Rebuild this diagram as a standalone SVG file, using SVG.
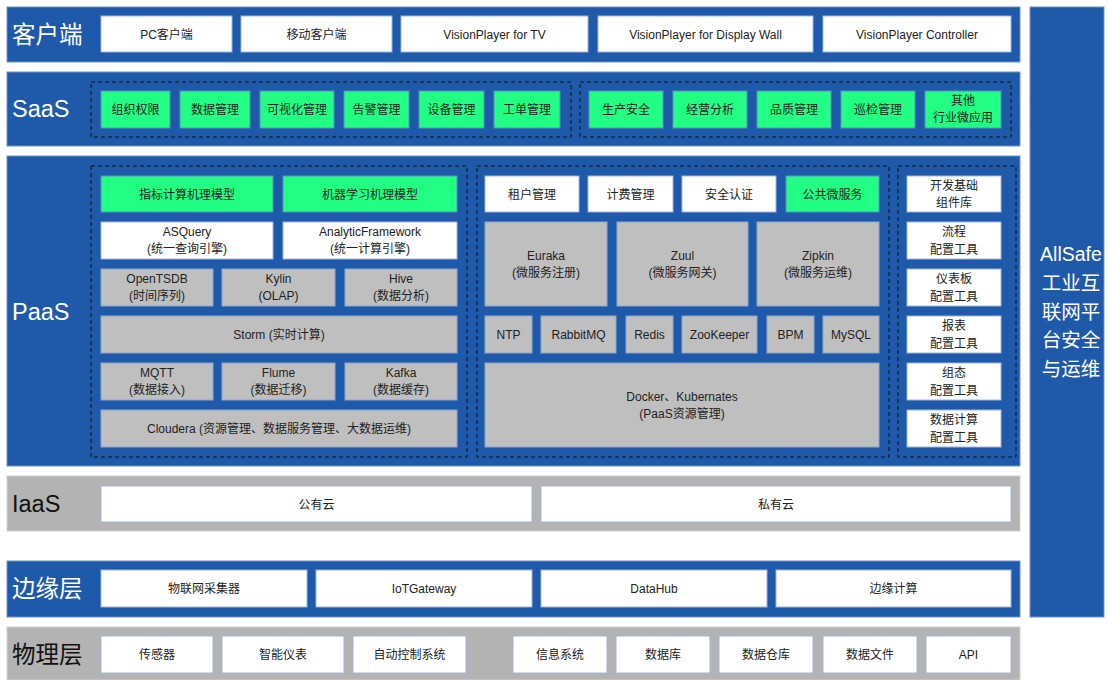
<svg xmlns="http://www.w3.org/2000/svg" width="1108" height="680" viewBox="0 0 1108 680">
<style>
text{font-family:"Liberation Sans","Noto Sans CJK SC",sans-serif;font-size:12px;fill:#222;text-anchor:middle;dominant-baseline:central}
.band{fill:#1f5aaa;stroke:#6f93c8;stroke-width:1}
.gband{fill:#b3b3b3;stroke:#cfcfcf;stroke-width:1}
.w{fill:#fff;stroke:#9fb6d9;stroke-width:1}
.g{fill:#22fd84;stroke:#5a8fc0;stroke-width:1}
.s{fill:#bfbfbf;stroke:#8ea6c8;stroke-width:1}
.dash{fill:none;stroke:#111;stroke-width:1;stroke-dasharray:4 3}
.lbl{font-size:23.5px;fill:#fff;text-anchor:start}
.lbld{font-size:23.5px;fill:#111;text-anchor:start}
.side{font-size:19.5px;fill:#fff}
</style>
<g id="bands">
<rect class="band" x="7" y="7" width="1013" height="55"/>
<rect class="band" x="7" y="72" width="1013" height="74"/>
<rect class="band" x="7" y="156" width="1013" height="310"/>
<rect class="gband" x="7" y="476" width="1013" height="55"/>
<rect class="band" x="7" y="561" width="1013" height="56"/>
<rect class="gband" x="7" y="627" width="1013" height="53"/>
<rect class="band" x="1030" y="7" width="74" height="610"/>
<text class="lbl" x="12" y="35">客户端</text>
<text class="lbl" x="12" y="109">SaaS</text>
<text class="lbl" x="12" y="312">PaaS</text>
<text class="lbld" x="12" y="504">IaaS</text>
<text class="lbl" x="12" y="589">边缘层</text>
<text class="lbld" x="12" y="655">物理层</text>
<text class="side" x="1071" y="254">AllSafe</text>
<text class="side" x="1071" y="283">工业互</text>
<text class="side" x="1071" y="312">联网平</text>
<text class="side" x="1071" y="340">台安全</text>
<text class="side" x="1071" y="369">与运维</text>
</g>
<g id="client">
<rect class="w" x="101" y="16" width="131" height="36"/><text x="166.5" y="35">PC客户端</text>
<rect class="w" x="241" y="16" width="151" height="36"/><text x="316.5" y="35">移动客户端</text>
<rect class="w" x="401" y="16" width="187" height="36"/><text x="494.5" y="35">VisionPlayer for TV</text>
<rect class="w" x="598" y="16" width="215" height="36"/><text x="705.5" y="35">VisionPlayer for Display Wall</text>
<rect class="w" x="823" y="16" width="188" height="36"/><text x="917" y="35">VisionPlayer Controller</text>
</g>
<g id="saas">
<rect class="dash" x="91" y="82" width="480" height="55"/>
<rect class="dash" x="580" y="82" width="431" height="55"/>
<rect class="g" x="101" y="91" width="69" height="37"/><text x="135.5" y="110">组织权限</text>
<rect class="g" x="180" y="91" width="70" height="37"/><text x="215" y="110">数据管理</text>
<rect class="g" x="260" y="91" width="74" height="37"/><text x="297" y="110">可视化管理</text>
<rect class="g" x="344" y="91" width="65" height="37"/><text x="376.5" y="110">告警管理</text>
<rect class="g" x="419" y="91" width="65" height="37"/><text x="451.5" y="110">设备管理</text>
<rect class="g" x="494" y="91" width="66" height="37"/><text x="527" y="110">工单管理</text>
<rect class="g" x="589" y="91" width="74" height="37"/><text x="626" y="110">生产安全</text>
<rect class="g" x="673" y="91" width="74" height="37"/><text x="710" y="110">经营分析</text>
<rect class="g" x="757" y="91" width="74" height="37"/><text x="794" y="110">品质管理</text>
<rect class="g" x="841" y="91" width="74" height="37"/><text x="878" y="110">巡检管理</text>
<rect class="g" x="925" y="91" width="76" height="37"/><text x="963" y="101">其他</text><text x="963" y="118">行业微应用</text>
</g>
<g id="paas-left">
<rect class="dash" x="91" y="166" width="376" height="291"/>
<rect class="g" x="101" y="176" width="172" height="36"/><text x="187" y="195">指标计算机理模型</text>
<rect class="g" x="283" y="176" width="174" height="36"/><text x="370" y="195">机器学习机理模型</text>
<rect class="w" x="101" y="222" width="172" height="37"/><text x="187" y="232">ASQuery</text><text x="187" y="249">(统一查询引擎)</text>
<rect class="w" x="283" y="222" width="174" height="37"/><text x="370" y="232">AnalyticFramework</text><text x="370" y="249">(统一计算引擎)</text>
<rect class="s" x="101" y="269" width="112" height="37"/><text x="157" y="279">OpenTSDB</text><text x="157" y="296">(时间序列)</text>
<rect class="s" x="222" y="269" width="113" height="37"/><text x="278.5" y="279">Kylin</text><text x="278.5" y="296">(OLAP)</text>
<rect class="s" x="345" y="269" width="112" height="37"/><text x="401" y="279">Hive</text><text x="401" y="296">(数据分析)</text>
<rect class="s" x="101" y="316" width="356" height="37"/><text x="279" y="335">Storm (实时计算)</text>
<rect class="s" x="101" y="363" width="112" height="37"/><text x="157" y="373">MQTT</text><text x="157" y="390">(数据接入)</text>
<rect class="s" x="222" y="363" width="113" height="37"/><text x="278.5" y="373">Flume</text><text x="278.5" y="390">(数据迁移)</text>
<rect class="s" x="345" y="363" width="112" height="37"/><text x="401" y="373">Kafka</text><text x="401" y="390">(数据缓存)</text>
<rect class="s" x="101" y="410" width="356" height="37"/><text x="279" y="429">Cloudera (资源管理、数据服务管理、大数据运维)</text>
</g>
<g id="paas-mid">
<rect class="dash" x="477" y="166" width="412" height="291"/>
<rect class="w" x="485" y="176" width="94" height="36"/><text x="532" y="195">租户管理</text>
<rect class="w" x="588" y="176" width="85" height="36"/><text x="630.5" y="195">计费管理</text>
<rect class="w" x="682" y="176" width="94" height="36"/><text x="729" y="195">安全认证</text>
<rect class="g" x="786" y="176" width="93" height="36"/><text x="832.5" y="195">公共微服务</text>
<rect class="s" x="485" y="222" width="122" height="84"/><text x="546" y="256">Euraka</text><text x="546" y="273">(微服务注册)</text>
<rect class="s" x="617" y="222" width="131" height="84"/><text x="682.5" y="256">Zuul</text><text x="682.5" y="273">(微服务网关)</text>
<rect class="s" x="757" y="222" width="122" height="84"/><text x="818" y="256">Zipkin</text><text x="818" y="273">(微服务运维)</text>
<rect class="s" x="485" y="316" width="47" height="37"/><text x="508.5" y="335">NTP</text>
<rect class="s" x="541" y="316" width="75" height="37"/><text x="578.5" y="335">RabbitMQ</text>
<rect class="s" x="626" y="316" width="47" height="37"/><text x="649.5" y="335">Redis</text>
<rect class="s" x="682" y="316" width="75" height="37"/><text x="719.5" y="335">ZooKeeper</text>
<rect class="s" x="767" y="316" width="47" height="37"/><text x="790.5" y="335">BPM</text>
<rect class="s" x="823" y="316" width="56" height="37"/><text x="851" y="335">MySQL</text>
<rect class="s" x="485" y="363" width="394" height="84"/><text x="682" y="397">Docker、Kubernates</text><text x="682" y="414">(PaaS资源管理)</text>
</g>
<g id="paas-right">
<rect class="dash" x="898" y="166" width="118" height="291"/>
<rect class="w" x="907" y="176" width="94" height="36"/><text x="954" y="186">开发基础</text><text x="954" y="203">组件库</text>
<rect class="w" x="907" y="222" width="94" height="37"/><text x="954" y="232">流程</text><text x="954" y="250">配置工具</text>
<rect class="w" x="907" y="269" width="94" height="37"/><text x="954" y="279">仪表板</text><text x="954" y="297">配置工具</text>
<rect class="w" x="907" y="316" width="94" height="37"/><text x="954" y="326">报表</text><text x="954" y="344">配置工具</text>
<rect class="w" x="907" y="363" width="94" height="37"/><text x="954" y="373">组态</text><text x="954" y="391">配置工具</text>
<rect class="w" x="907" y="410" width="94" height="37"/><text x="954" y="420">数据计算</text><text x="954" y="438">配置工具</text>
</g>
<g id="iaas">
<rect class="w" x="101" y="486" width="431" height="36"/><text x="316.5" y="505">公有云</text>
<rect class="w" x="541" y="486" width="470" height="36"/><text x="776" y="505">私有云</text>
</g>
<g id="edge">
<rect class="w" x="101" y="570" width="206" height="37"/><text x="204" y="589">物联网采集器</text>
<rect class="w" x="316" y="570" width="216" height="37"/><text x="424" y="589">IoTGateway</text>
<rect class="w" x="541" y="570" width="226" height="37"/><text x="654" y="589">DataHub</text>
<rect class="w" x="776" y="570" width="235" height="37"/><text x="893.5" y="589">边缘计算</text>
</g>
<g id="physical">
<rect class="w" x="101" y="636" width="112" height="37"/><text x="157" y="655">传感器</text>
<rect class="w" x="222" y="636" width="122" height="37"/><text x="283" y="655">智能仪表</text>
<rect class="w" x="353" y="636" width="113" height="37"/><text x="409.5" y="655">自动控制系统</text>
<rect class="w" x="513" y="636" width="94" height="37"/><text x="560" y="655">信息系统</text>
<rect class="w" x="616" y="636" width="94" height="37"/><text x="663" y="655">数据库</text>
<rect class="w" x="719" y="636" width="94" height="37"/><text x="766" y="655">数据仓库</text>
<rect class="w" x="823" y="636" width="94" height="37"/><text x="870" y="655">数据文件</text>
<rect class="w" x="926" y="636" width="85" height="37"/><text x="968.5" y="655">API</text>
</g>
</svg>
